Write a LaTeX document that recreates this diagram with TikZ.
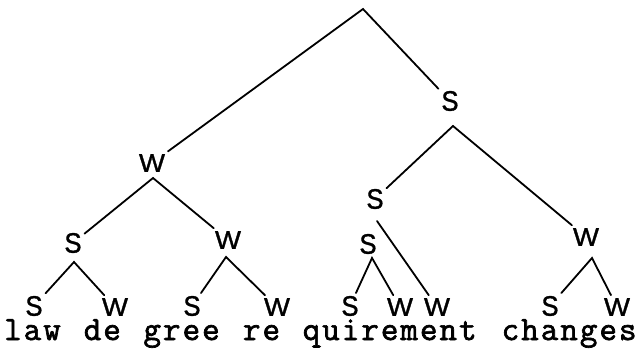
\documentclass[tikz,border=0pt]{standalone}
\usepackage{fontspec}
\usepackage{graphicx}
\setmainfont{Liberation Sans}
\newfontfamily\labfont[FakeBold=1.2]{Liberation Sans}
\newfontfamily\typew[LetterSpace=6,FakeBold=2]{Latin Modern Mono}
\newcommand\LabS{\scalebox{0.8}[0.88]{S}}
\newcommand\LabW{\scalebox{0.86}[0.8]{W}}
\begin{document}
\begin{tikzpicture}[x=1pt,y=-1pt,
  lab/.style={font=\labfont\fontsize{32}{32}\selectfont, inner sep=0pt, outer sep=3pt},
  edge/.style={line width=1.8pt, line cap=round},
  word/.style={anchor=base west, inner sep=0pt, font=\typew\fontsize{34}{34}\selectfont},
]
\useasboundingbox (0,0) rectangle (643,351);
% apexes
\coordinate (root) at (363,9);
\coordinate (S1a) at (453,126);
\coordinate (W1a) at (153,178);
\coordinate (S2la) at (74,262);
\coordinate (W2la) at (226,257);
\coordinate (S2ra) at (377,221);
\coordinate (s25a) at (372,258);
\coordinate (Wra) at (592,258);
% labels
\node[lab] (S1) at (450,101) {\LabS};
\node[lab] (W1) at (152,163) {\LabW};
\node[lab] (S2l) at (73,243) {\LabS};
\node[lab] (W2l) at (228,240) {\LabW};
\node[lab] (S2r) at (375,199) {\LabS};
\node[lab, outer sep=1pt] (s25) at (368,244) {\LabS};
\node[lab] (Wr) at (586,237) {\LabW};
\node[lab] (L1) at (34,306) {\LabS};
\node[lab] (L2) at (115,307) {\LabW};
\node[lab] (L3) at (192,306) {\LabS};
\node[lab] (L4) at (277,307) {\LabW};
\node[lab] (L5) at (350,306) {\LabS};
\node[lab] (L6) at (400,307) {\LabW};
\node[lab] (L7) at (437,307) {\LabW};
\node[lab] (L8) at (550,306) {\LabS};
\node[lab] (L9) at (617,307) {\LabW};
% edges
\draw[edge] (W1) -- (root) -- (S1);
\draw[edge] (S2r) -- (S1a) -- (Wr);
\draw[edge] (S2l) -- (W1a) -- (W2l);
\draw[edge] (L1) -- (S2la) -- (L2);
\draw[edge] (L3) -- (W2la) -- (L4);
\draw[edge] (S2ra) -- (L7);
\draw[edge] (L5) -- (s25a) -- (L6);
\draw[edge] (L8) -- (Wra) -- (L9);
% words (monospaced, 19.9pt per character)
\node[word] (w1) at (4,340) {law};
\node[word] (w2) at (83.6,340) {de};
\node[word] (w3) at (143.3,340) {gree};
\node[word] (w4) at (242.8,340) {re};
\node[word] (w5) at (302.5,340) {quirement};
\node[word] (w6) at (501.5,340) {changes};
\end{tikzpicture}
\end{document}
